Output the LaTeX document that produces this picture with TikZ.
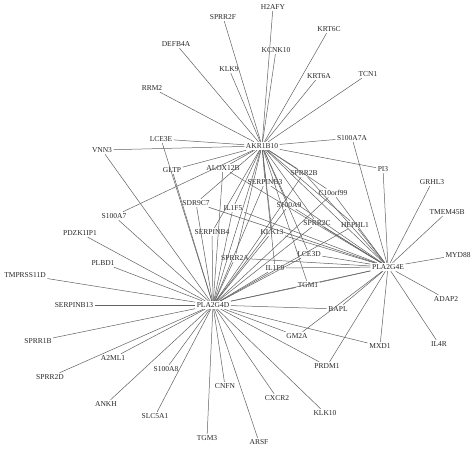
\documentclass[tikz,border=0pt]{standalone}
\usepackage{fontspec}
\setmainfont{Liberation Serif}
\begin{document}
\begin{tikzpicture}[x=1pt,y=-1pt,
  g/.style={font=\fontsize{7.5}{8}\selectfont, inner sep=1.5pt, text=black!85},
  e/.style={draw=black!62, line width=0.5pt}]
\useasboundingbox[fill=white] (0,0) rectangle (474,449);
% nodes
\node[g] (h2afy) at (273,7) {H2AFY};
\node[g] (sprr2f) at (223,17) {SPRR2F};
\node[g] (krt6c) at (329,29) {KRT6C};
\node[g] (defb4a) at (176,44) {DEFB4A};
\node[g] (kcnk10) at (276,50) {KCNK10};
\node[g] (klk9) at (229,69) {KLK9};
\node[g] (krt6a) at (319,76) {KRT6A};
\node[g] (tcn1) at (368,74) {TCN1};
\node[g] (rrm2) at (152,88) {RRM2};
\node[g] (akr) at (262,146) {AKR1B10};
\node[g] (lce3e) at (161,139) {LCE3E};
\node[g] (vnn3) at (102,150) {VNN3};
\node[g] (s100a7a) at (352,138) {S100A7A};
\node[g] (pi3) at (383,169) {PI3};
\node[g] (gltp) at (172,170) {GLTP};
\node[g] (alox) at (223,168) {ALOX12B};
\node[g] (sprr2b) at (304,173) {SPRR2B};
\node[g] (serpinb3) at (265,182) {SERPINB3};
\node[g] (c10) at (333,193) {C10orf99};
\node[g] (s100a7) at (114,216) {S100A7};
\node[g] (sdr9c7) at (196,203) {SDR9C7};
\node[g] (il1f5) at (233,208) {IL1F5};
\node[g] (s100a9) at (289,205) {S100A9};
\node[g] (sprr2c) at (317,223) {SPRR2C};
\node[g] (hephl1) at (355,225) {HEPHL1};
\node[g] (grhl3) at (432,182) {GRHL3};
\node[g] (tmem45b) at (447,212) {TMEM45B};
\node[g] (myd88) at (458,255) {MYD88};
\node[g] (pdzk) at (80,233) {PDZK1IP1};
\node[g] (serpinb4) at (212,232) {SERPINB4};
\node[g] (klk13) at (272,232) {KLK13};
\node[g] (lce3d) at (309,254) {LCE3D};
\node[g] (pla4e) at (388,267) {PLA2G4E};
\node[g] (sprr2a) at (235,258) {SPRR2A};
\node[g] (il1f9) at (275,268) {IL1F9};
\node[g] (plbd1) at (103,263) {PLBD1};
\node[g] (tmprss) at (25,275) {TMPRSS11D};
\node[g] (tgm1) at (308,285) {TGM1};
\node[g] (pla4d) at (213,305) {PLA2G4D};
\node[g] (serpinb13) at (74,305) {SERPINB13};
\node[g] (bapl) at (338,309) {BAPL};
\node[g] (gm2a) at (297,336) {GM2A};
\node[g] (adap2) at (446,299) {ADAP2};
\node[g] (mxd1) at (380,346) {MXD1};
\node[g] (il4r) at (439,344) {IL4R};
\node[g] (sprr1b) at (38,341) {SPRR1B};
\node[g] (a2ml1) at (113,358) {A2ML1};
\node[g] (prdm1) at (327,366) {PRDM1};
\node[g] (sprr2d) at (50,377) {SPRR2D};
\node[g] (s100a8) at (166,369) {S100A8};
\node[g] (cnfn) at (225,386) {CNFN};
\node[g] (cxcr2) at (277,398) {CXCR2};
\node[g] (ankh) at (106,404) {ANKH};
\node[g] (klk10) at (325,413) {KLK10};
\node[g] (slc5a1) at (155,416) {SLC5A1};
\node[g] (tgm3) at (207,438) {TGM3};
\node[g] (arsf) at (259,442) {ARSF};
% edges from AKR1B10
\foreach \n in {h2afy,sprr2f,krt6c,defb4a,kcnk10,klk9,krt6a,tcn1,rrm2,lce3e,vnn3,s100a7a,pi3,gltp,s100a7,
  alox,sprr2b,serpinb3,c10,sdr9c7,il1f5,s100a9,sprr2c,hephl1,serpinb4,klk13,lce3d,sprr2a,il1f9,tgm1,pla4e,pla4d}
  \draw[e] (akr) -- (\n);
% edges from PLA2G4D
\foreach \n in {vnn3,lce3e,gltp,s100a7,pdzk,plbd1,tmprss,serpinb13,sprr1b,a2ml1,sprr2d,ankh,s100a8,slc5a1,tgm3,cnfn,arsf,cxcr2,klk10,prdm1,mxd1,gm2a,bapl,tgm1,
  alox,sprr2b,serpinb3,c10,sdr9c7,il1f5,s100a9,sprr2c,hephl1,serpinb4,klk13,lce3d,sprr2a,il1f9}
  \draw[e] (pla4d) -- (\n);
% edges from PLA2G4E
\foreach \n in {grhl3,tmem45b,myd88,adap2,il4r,mxd1,prdm1,bapl,gm2a,pi3,s100a7a,tgm1,
  alox,sprr2b,serpinb3,c10,sdr9c7,il1f5,s100a9,sprr2c,hephl1,klk13,lce3d,sprr2a,il1f9}
  \draw[e] (pla4e) -- (\n);
\draw[e] (pla4d) -- (pla4e);
\end{tikzpicture}
\end{document}
